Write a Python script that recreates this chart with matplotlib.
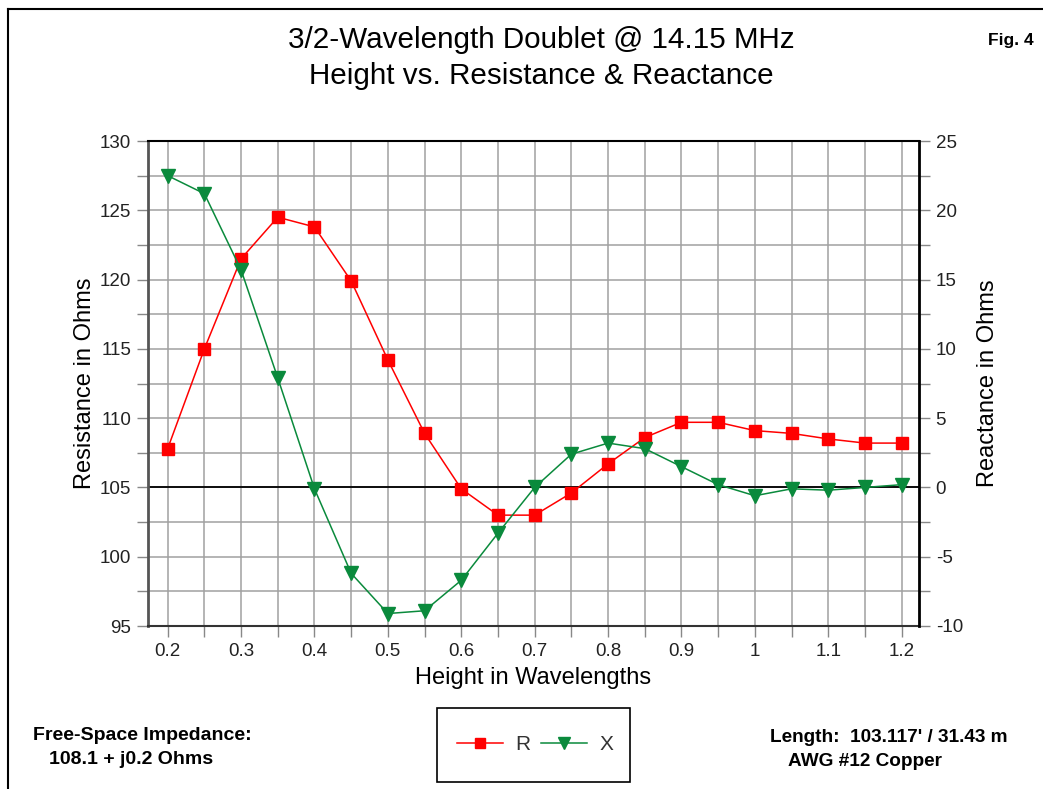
import matplotlib
matplotlib.use("Agg")
import matplotlib.pyplot as plt
from matplotlib.lines import Line2D
from matplotlib.patches import Rectangle
import numpy as np

plt.rcParams['font.family'] = ['Liberation Sans', 'DejaVu Sans']
plt.rcParams['axes.unicode_minus'] = False

heights = [0.2, 0.25, 0.3, 0.35, 0.4, 0.45, 0.5, 0.55, 0.6, 0.65, 0.7,
           0.75, 0.8, 0.85, 0.9, 0.95, 1.0, 1.05, 1.1, 1.15, 1.2]
resistance = [107.8, 115.0, 121.5, 124.5, 123.8, 119.9, 114.2, 108.9, 104.9, 103.0, 103.0,
              104.6, 106.7, 108.6, 109.7, 109.7, 109.1, 108.9, 108.5, 108.2, 108.2]
reactance = [22.5, 21.2, 15.7, 7.9, -0.1, -6.2, -9.1, -8.9, -6.7, -3.3, 0.0,
             2.4, 3.2, 2.8, 1.5, 0.2, -0.6, -0.1, -0.2, 0.0, 0.2]

x_ticks = [0.2, 0.3, 0.4, 0.5, 0.6, 0.7, 0.8, 0.9, 1.0, 1.1, 1.2]
x_tick_labels = ['0.2', '0.3', '0.4', '0.5', '0.6', '0.7', '0.8', '0.9', '1', '1.1', '1.2']
r_ticks = [95, 100, 105, 110, 115, 120, 125, 130]
x2_ticks = [-10, -5, 0, 5, 10, 15, 20, 25]

title = "3/2-Wavelength Doublet @ 14.15 MHz\nHeight vs. Resistance & Reactance"

W, H = 1043, 789
fig = plt.figure(figsize=(W / 100, H / 100), dpi=100)
fig.patch.set_facecolor('white')

# outer frame (open on right and bottom as in reference)
fig.add_artist(Line2D([8 / W, 8 / W], [0, 1 - 9 / H], transform=fig.transFigure, color='black', lw=1.5))
fig.add_artist(Line2D([8 / W, 1], [1 - 9 / H, 1 - 9 / H], transform=fig.transFigure, color='black', lw=1.5))

ax = fig.add_axes([148 / W, 1 - 626 / H, (919 - 148) / W, (626 - 141) / H])
ax2 = ax.twinx()

ax.set_xlim(0.1732, 1.2236)
ax.set_ylim(95, 130)
ax2.set_ylim(-10, 25)

grid_c = '#a0a0a0'
ax.set_xticks(np.arange(0.2, 1.2001, 0.05), minor=True)
ax.set_xticks(x_ticks)
ax.set_xticklabels(x_tick_labels)
ax.set_yticks(np.arange(95, 130.01, 2.5), minor=True)
ax.set_yticks(r_ticks)
ax2.set_yticks(np.arange(-10, 25.01, 2.5), minor=True)
ax2.set_yticks(x2_ticks)

ax.grid(True, which='both', color=grid_c, lw=1.1)
ax.set_axisbelow(True)
ax.axhline(105, color='black', lw=1.3, zorder=1.5)

for a in (ax, ax2):
    a.tick_params(which='both', direction='out', length=8, width=1, color='#888888',
                  labelsize=13.5, labelcolor='#222222', pad=4)

ax.spines['left'].set_color('#555555')
ax.spines['left'].set_linewidth(2)
ax.spines['bottom'].set_color('#333333')
ax.spines['bottom'].set_linewidth(1.5)
ax.spines['top'].set_linewidth(1.5)
ax2.spines['right'].set_linewidth(2)
ax2.spines['left'].set_visible(False)
ax2.spines['top'].set_visible(False)
ax2.spines['bottom'].set_visible(False)

red = '#ff0000'
green = '#0a8a3c'
ax.plot(heights, resistance, color=red, lw=1.1, marker='s', ms=8.5, mec=red, mfc=red, zorder=3)
ax2.plot(heights, reactance, color=green, lw=1.1, marker='v', ms=9.5, mec=green, mfc=green, zorder=3)

ax.set_xlabel('Height in Wavelengths', fontsize=17, labelpad=5)
ax.set_ylabel('Resistance in Ohms', fontsize=17, labelpad=3)
ax2.set_ylabel('Reactance in Ohms', fontsize=17, labelpad=10)

fig.text(541 / W, 1 - 58 / H, title, ha='center', va='center', fontsize=21.3, linespacing=1.4)
bfam = ['Liberation Sans Narrow', 'Liberation Sans']
fig.text(1034 / W, 1 - 40 / H, 'Fig. 4', ha='right', va='center', fontsize=12.5, fontweight='bold',
         family=bfam)

fig.text(33 / W, 1 - 735 / H, 'Free-Space Impedance:', ha='left', va='center', fontsize=14,
         fontweight='bold', family=bfam)
fig.text(49 / W, 1 - 759 / H, '108.1 + j0.2 Ohms', ha='left', va='center', fontsize=14,
         fontweight='bold', family=bfam)
fig.text(770 / W, 1 - 738 / H, "Length:  103.117' / 31.43 m", ha='left', va='center', fontsize=13.7,
         fontweight='bold', family=bfam)
fig.text(788 / W, 1 - 762 / H, 'AWG #12 Copper', ha='left', va='center', fontsize=13.7,
         fontweight='bold', family=bfam)

# legend
fig.add_artist(Rectangle((437 / W, 1 - 782 / H), (630 - 437) / W, (782 - 708) / H,
                         transform=fig.transFigure, fill=False, ec='black', lw=1.2))
h1 = Line2D([], [], color=red, lw=1.1, marker='s', ms=7, mfc=red, mec=red)
h2 = Line2D([], [], color=green, lw=1.1, marker='v', ms=8, mfc=green, mec=green)
leg = fig.legend([h1, h2], ['R', 'X'], loc='center', bbox_to_anchor=(535 / W, 1 - 745 / H),
                 ncol=2, frameon=False, fontsize=15, handlelength=2.2, handletextpad=0.6,
                 columnspacing=0.5)
for t in leg.get_texts():
    t.set_color('#333333')

fig.savefig('out.png', dpi=100, facecolor='white')
